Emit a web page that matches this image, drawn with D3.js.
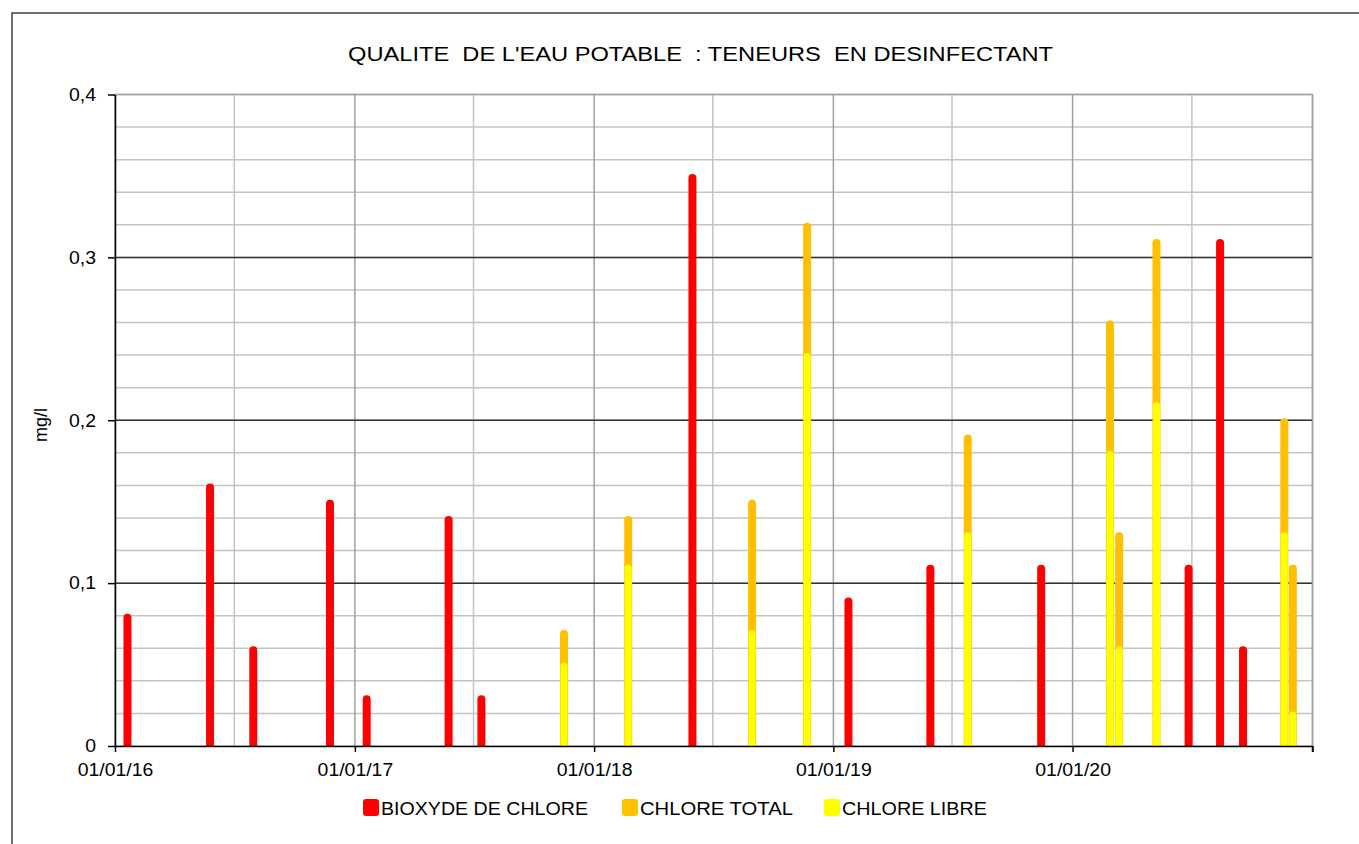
<!DOCTYPE html>
<html>
<head>
<meta charset="utf-8">
<script src="https://cdn.jsdelivr.net/npm/d3@7"></script>
<style>
  html, body { margin: 0; padding: 0; background: #fff; }
  svg { display: block; }
  text { font-family: "Liberation Sans", Arial, sans-serif; fill: #000; }
</style>
</head>
<body>
<svg id="chart" width="1359" height="844"></svg>
<script>
// ---- DATA ----
const title = "QUALITE  DE L'EAU POTABLE  : TENEURS  EN DESINFECTANT";
const yAxisLabel = "mg/l";
const seriesNames = ["BIOXYDE DE CHLORE", "CHLORE TOTAL", "CHLORE LIBRE"];
const seriesColors = ["#ff0000", "#ffc000", "#ffff00"];

const bioxydeDates = ["2016-01-20","2016-05-25","2016-07-30","2016-11-24","2017-01-19","2017-05-24","2017-07-13",
                      "2018-05-31","2019-01-24","2019-05-29","2019-11-14","2020-06-26","2020-08-13","2020-09-17"];
const bioxydeValues = [0.08, 0.16, 0.06, 0.15, 0.03, 0.14, 0.03, 0.35, 0.09, 0.11, 0.11, 0.11, 0.31, 0.06];

const chloreDates = ["2017-11-16","2018-02-22","2018-08-30","2018-11-22","2019-07-25",
                     "2020-02-27","2020-03-12","2020-05-08","2020-11-19","2020-12-02"];
const chloreTotalValues = [0.07, 0.14, 0.15, 0.32, 0.19, 0.26, 0.13, 0.31, 0.20, 0.11];
const chloreLibreValues = [0.05, 0.11, 0.07, 0.24, 0.13, 0.18, 0.06, 0.21, 0.13, 0.02];

const yTickValues = [0, 0.1, 0.2, 0.3, 0.4];
const yTickLabels = ["0", "0,1", "0,2", "0,3", "0,4"];
const xTickDates = ["2016-01-01","2017-01-01","2018-01-01","2019-01-01","2020-01-01","2021-01-01"];
const xTickLabels = ["01/01/16","01/01/17","01/01/18","01/01/19","01/01/20",""];

// ---- CHART ----
(function () {
const parse = d3.timeParse("%Y-%m-%d");
const svg = d3.select("#chart");
const pLeft = 115, pRight = 1312.5, pTop = 94.5, pBottom = 746;

const x = d3.scaleTime().domain([parse("2016-01-01"), parse("2021-01-01")]).range([pLeft, pRight]);
const y = d3.scaleLinear().domain([0, 0.4]).range([pBottom, pTop]);

// outer frame
svg.append("rect").attr("x", 12).attr("y", 13).attr("width", 1400).attr("height", 900)
  .attr("fill", "none").attr("stroke", "#404040").attr("stroke-width", 1.5);

// title
svg.append("text").attr("x", 700.5).attr("y", 61).attr("text-anchor", "middle")
  .attr("xml:space", "preserve").style("font-size", "20px")
  .attr("textLength", 705).attr("lengthAdjust", "spacingAndGlyphs").text(title);

// y label
svg.append("text").attr("transform", "translate(47,425) rotate(-90)").attr("text-anchor", "middle")
  .style("font-size", "18px").text(yAxisLabel);

const grid = svg.append("g");
// minor horizontal
grid.selectAll(".hmin").data(y.ticks(20)).join("line")
  .attr("x1", pLeft).attr("x2", pRight).attr("y1", d => y(d)).attr("y2", d => y(d))
  .attr("stroke", "#c4c4c4").attr("stroke-width", 1.5);
// vertical half-year lines
const halfYears = x.ticks(d3.timeMonth.every(6));
grid.selectAll(".v").data(halfYears).join("line")
  .attr("x1", d => x(d)).attr("x2", d => x(d)).attr("y1", pTop).attr("y2", pBottom)
  .attr("stroke", d => d.getMonth() === 0 ? "#a0a0a0" : "#c4c4c4").attr("stroke-width", 1.5);
// major horizontal
grid.selectAll(".hmaj").data(yTickValues.slice(1)).join("line")
  .attr("x1", pLeft).attr("x2", pRight).attr("y1", d => y(d)).attr("y2", d => y(d))
  .attr("stroke", d => d === 0.4 ? "#a0a0a0" : "#333").attr("stroke-width", 1.5);

// bars
function barPath(cx, v, w) {
  const r = w / 2, t = y(v) - 2, b = y(0);
  return `M${cx - r},${b}V${t + r}A${r},${r} 0 0 1 ${cx + r},${t + r}V${b}Z`;
}
const bars = svg.append("g");
bioxydeDates.forEach((d, i) => {
  bars.append("path").attr("d", barPath(x(parse(d)), bioxydeValues[i], 8)).attr("fill", seriesColors[0]);
});
chloreDates.forEach((d, i) => {
  const cx = x(parse(d));
  bars.append("path").attr("d", barPath(cx, chloreTotalValues[i], 8)).attr("fill", seriesColors[1]);
  bars.append("path").attr("d", barPath(cx, chloreLibreValues[i], 7)).attr("fill", seriesColors[2]);
});

// axes
const yAxis = d3.axisLeft(y).tickValues(yTickValues).tickFormat((d, i) => yTickLabels[i])
  .tickSize(7).tickSizeOuter(0).tickPadding(12);
const gy = svg.append("g").attr("transform", `translate(${pLeft},0)`).call(yAxis);
const xAxis = d3.axisBottom(x).tickValues(xTickDates.map(parse)).tickFormat((d, i) => xTickLabels[i])
  .tickSize(6).tickSizeOuter(0).tickPadding(11);
const gx = svg.append("g").attr("transform", `translate(0,${pBottom})`).call(xAxis);

[gx, gy].forEach(g => {
  g.selectAll(".domain").attr("stroke", "#000").attr("stroke-width", 1.5);
  g.selectAll(".tick line").attr("stroke", "#000").attr("stroke-width", 1.5);
  g.selectAll("text").style("font-size", "18px").style("font-family", "Liberation Sans, Arial, sans-serif").attr("fill", "#000");
});
// horizontal stretch like the reference
[gx, gy].forEach(g => g.selectAll("text").each(function () {
  const w = this.getComputedTextLength();
  if (w > 0) d3.select(this).attr("textLength", w * 1.08).attr("lengthAdjust", "spacingAndGlyphs");
}));
// right border
svg.append("line").attr("x1", pRight).attr("x2", pRight).attr("y1", pTop).attr("y2", pBottom)
  .attr("stroke", "#a0a0a0").attr("stroke-width", 1.5);
svg.append("line").attr("x1", pRight).attr("x2", pRight).attr("y1", pBottom).attr("y2", pBottom + 6)
  .attr("stroke", "#000").attr("stroke-width", 1.5);

// legend
const legendX = [363, 622, 824];
const legendW = [207, 153, 145];
const lg = svg.append("g");
seriesNames.forEach((n, i) => {
  lg.append("rect").attr("x", legendX[i]).attr("y", 799).attr("width", 16).attr("height", 17)
    .attr("rx", 3).attr("fill", seriesColors[i]);
  lg.append("text").attr("x", legendX[i] + 18).attr("y", 815).style("font-size", "18px")
    .attr("textLength", legendW[i]).attr("lengthAdjust", "spacingAndGlyphs").text(n);
});
})();
</script>
</body>
</html>
